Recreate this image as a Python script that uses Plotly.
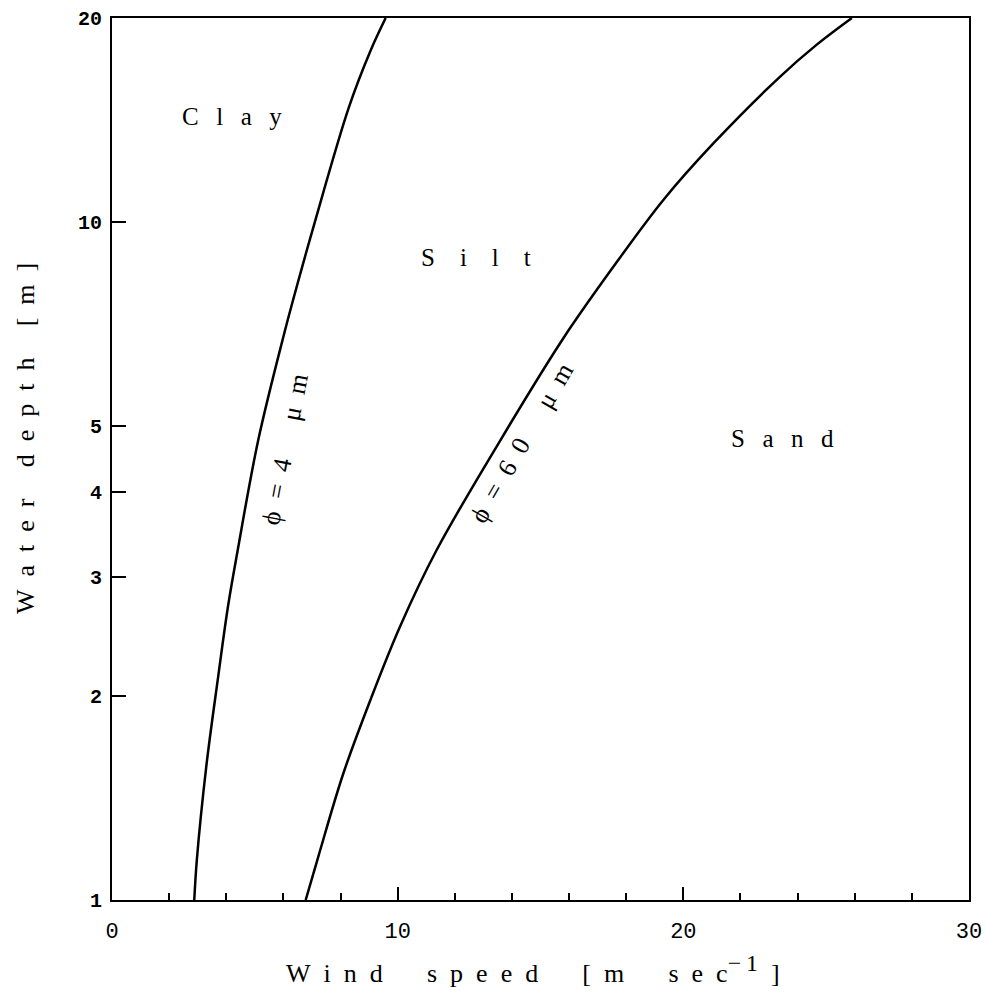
import math
import plotly.graph_objects as go

# ---- data ----
clay_wind = [2.88, 2.97, 3.30, 3.70, 4.06, 4.40, 5.12, 6.06, 6.37, 7.10, 8.30, 9.05, 9.58]
clay_depth = [1.0, 1.146, 1.573, 2.11, 2.71, 3.28, 4.77, 6.93, 7.76, 10.0, 14.8, 17.9, 20.0]

sand_wind = [6.78, 7.22, 8.10, 9.09, 10.08, 11.36, 13.60, 15.80, 17.55, 19.30, 21.05, 23.38, 24.65, 25.9]
sand_depth = [1.0, 1.158, 1.538, 1.995, 2.53, 3.28, 4.77, 6.74, 8.59, 10.78, 13.06, 16.38, 18.24, 20.0]

x_major = [0, 10, 20, 30]
y_ticks = [1, 2, 3, 4, 5, 10, 20]
y_ticktext = ["1", "2", "3", "4", "5", "10", "20"]

region_names = ["Clay", "Silt", "Sand"]
region_x = [4.2, 12.74, 23.47]
region_depth = [14.3, 8.88, 4.79]

EN = "\u2002"
TH = "\u2009"
EM = "\u2003"

SERIF = "Liberation Serif, Times New Roman, serif"
MONO = "Liberation Mono, Courier New, monospace"

fig = go.Figure()
for xs, ys in [(clay_wind, clay_depth), (sand_wind, sand_depth)]:
    fig.add_trace(go.Scatter(
        x=xs, y=ys, mode="lines",
        line=dict(color="black", width=2.5, shape="spline", smoothing=1.0),
        showlegend=False, hoverinfo="skip",
    ))

region_text = {
    "Clay": (EN + TH).join("Clay"),
    "Silt": EM.join("Silt"),
    "Sand": (EN + TH).join("Sand"),
}
for name, xv, dv in zip(region_names, region_x, region_depth):
    fig.add_annotation(
        x=xv, y=math.log10(dv), xref="x", yref="y",
        text=region_text[name], showarrow=False,
        font=dict(family=SERIF, size=25, color="black"),
        xanchor="center", yanchor="middle",
    )

# curve labels
PHI = "\u03d5"
lab4 = EN.join(PHI + "=4") + EN * 3 + EN.join("μm")
lab60 = EN.join(PHI + "=60") + EN * 3 + EN.join("μm")
fig.add_annotation(x=6.07, y=0.6657, xref="x", yref="y", text=lab4,
                   showarrow=False, textangle=-79,
                   font=dict(family=SERIF, size=26, color="black"))
fig.add_annotation(x=14.36, y=0.6745, xref="x", yref="y", text=lab60,
                   showarrow=False, textangle=-60,
                   font=dict(family=SERIF, size=26, color="black"))

# axis titles
WG = EN * 3 + TH
xtitle = (EN.join("Wind") + WG + EN.join("speed") + WG + EN.join("[m") + WG +
          EN.join("sec") + "<sup><span style='font-size:24px'>−" + TH + "1</span></sup>" + EN + "]")
ytitle = (EN.join("Water") + EN * 2 + TH + EN.join("depth") + EN * 2 + TH + EN.join("[m]"))
fig.add_annotation(x=0.4907, y=-0.078, xref="paper", yref="paper", text=xtitle,
                   showarrow=False, xanchor="center", yanchor="middle",
                   font=dict(family=SERIF, size=26, color="black"))
fig.add_annotation(x=-0.1003, y=0.5227, xref="paper", yref="paper", text=ytitle,
                   showarrow=False, textangle=-90, xanchor="center", yanchor="middle",
                   font=dict(family=SERIF, size=26, color="black"))

fig.update_layout(
    width=985, height=996,
    margin=dict(l=112, r=16, t=18, b=96),
    paper_bgcolor="white", plot_bgcolor="white",
    showlegend=False,
)
fig.update_xaxes(
    range=[0, 30], tickmode="array", tickvals=x_major, automargin=False,
    ticks="inside", ticklen=13, tickwidth=1.5, tickcolor="black",
    minor=dict(dtick=2, tick0=0, ticks="inside", ticklen=7, tickwidth=1.5, tickcolor="black"),
    showline=True, linecolor="black", linewidth=2, mirror=True,
    showgrid=False, zeroline=False,
    tickfont=dict(family=MONO, size=22, color="black"),
    ticklabelstandoff=10,
)
fig.update_yaxes(
    type="log", range=[0, math.log10(20)], automargin=False,
    tickmode="array", tickvals=y_ticks, ticktext=y_ticktext,
    ticks="inside", ticklen=14, tickwidth=1.5, tickcolor="black",
    showline=True, linecolor="black", linewidth=2, mirror=True,
    showgrid=False, zeroline=False,
    tickfont=dict(family=MONO, size=20, color="black", weight="bold"),
    ticklabelstandoff=4,
)

fig.write_html(
    "out.html",
    config={"displayModeBar": False},
    post_script="document.body.style.margin='0';document.body.style.overflow='hidden';",
)
